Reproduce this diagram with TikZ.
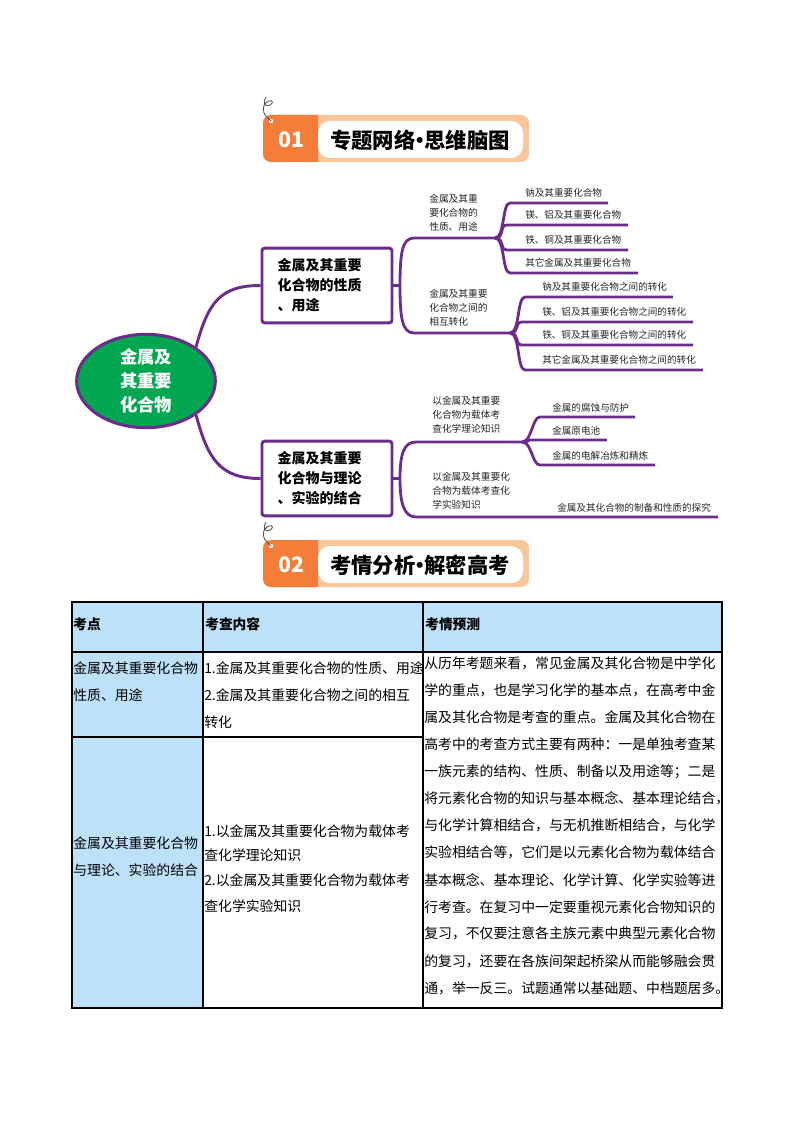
\documentclass[tikz,border=0pt]{standalone}
\usepackage{fontspec}
\setmainfont{Noto Sans CJK SC}
\usetikzlibrary{shapes.geometric,positioning}
\definecolor{mmpurple}{RGB}{106,45,140}
\definecolor{mmgreen}{RGB}{0,166,80}
\definecolor{bnorange}{RGB}{244,125,58}
\definecolor{bnlight}{RGB}{250,198,155}
\definecolor{tbblue}{RGB}{190,225,250}
\tikzset{
corebox/.style={ellipse, draw=mmpurple, line width=2.3pt, fill=mmgreen, text=white, align=center, inner sep=0pt, minimum width=104pt, minimum height=70pt, font=\fontsize{13}{18}\selectfont\bfseries},
topicbox/.style={draw=mmpurple, line width=2.2pt, rounded corners=2pt, fill=white, align=left, inner sep=0pt, text width=74pt, minimum width=97.5pt, minimum height=56pt, font=\fontsize{10.5}{15}\selectfont\bfseries},
sublabel/.style={anchor=north west, align=left, inner sep=0pt, text=black!85, font=\fontsize{7.3}{10.6}\selectfont},
leaflabel/.style={anchor=west, inner sep=0pt, text=black!85, font=\fontsize{7.2}{9}\selectfont},
trunk/.style={draw=mmpurple, line width=2.2pt},
twig/.style={draw=mmpurple, line width=2.1pt},
bannum/.style={text=white, inner sep=0pt, font=\fontsize{16}{18}\selectfont\bfseries},
bantitle/.style={text=black, inner sep=0pt, font=\fontsize{16}{18}\selectfont\bfseries},
curlline/.style={draw=black!70, line width=0.6pt},
gridline/.style={draw=black, line width=0.8pt},
headtext/.style={anchor=west, inner sep=0pt, font=\fontsize{10.3}{12}\selectfont\bfseries},
celltext/.style={anchor=west, inner sep=0pt, font=\fontsize{10.4}{12}\selectfont}
}
\newcommand{\tightdot}{\makebox[0.42em]{•}}
\begin{document}
\begin{tikzpicture}[x=0.75pt,y=-0.75pt]
\useasboundingbox (0,0) rectangle (794,1123);

% section banners
\foreach \yy/\num/\ttl/\nm in {0/01/专题网络\tightdot 思维脑图/a,425/02/考情分析\tightdot 解密高考/b}{
\begin{scope}[shift={(0,\yy)}]
\fill[bnlight, rounded corners=6] (263,115) rectangle (529,162);
\fill[bnorange] (318,162) [rounded corners=6] -- (263,162) -- (263,115) [sharp corners] -- (318,115) -- cycle;
\fill[white, rounded corners=9] (318,121) rectangle (523,158);
\fill[white] (271,121) circle (2.2);
\draw[curlline] (271,121) .. controls (264,115) and (261,110) .. (265,104) .. controls (270,98) and (276,101) .. (270,105) .. controls (265,108) and (262,102) .. (266,97);
\node[bannum] (num\nm) at (291,140) {\num};
\node[bantitle] (ttl\nm) at (420,140) {\ttl};
\end{scope}}

% mind map
\node[corebox] (core) at (146,381) {金属及\\其重要\\化合物};
\node[topicbox] (prop) at (327,285.5) {金属及其重要\\化合物的性质\\、用途};
\node[topicbox] (theo) at (327,478.5) {金属及其重要\\化合物与理论\\、实验的结合};

\draw[trunk] (core.north east) .. controls +(12,-45) and +(-40,0) .. (prop.west);
\draw[trunk] (core.south east) .. controls +(12,45) and +(-40,0) .. (theo.west);

\coordinate (fp) at (400,285.5);
\coordinate (ft) at (400,478.5);
\draw[twig] (prop.east) -- (fp);
\draw[twig] (theo.east) -- (ft);

\coordinate (sA) at (414,238); \coordinate (kA) at (495,238);
\coordinate (sB) at (414,333); \coordinate (kB) at (510,333);
\coordinate (sC) at (416,442); \coordinate (kC) at (522,442);
\coordinate (sD) at (416,517); \coordinate (eD) at (718,517);
\draw[twig] (fp) .. controls +(0,-32) and +(-12,0) .. (sA) -- (kA);
\draw[twig] (fp) .. controls +(0,32) and +(-12,0) .. (sB) -- (kB);
\draw[twig] (ft) .. controls +(0,-25) and +(-12,0) .. (sC) -- (kC);
\draw[twig] (ft) .. controls +(0,25) and +(-12,0) .. (sD) -- (eD);

\node[sublabel] (ga) at (429,194) {金属及其重\\要化合物的\\性质、用途};
\node[sublabel] (gb) at (429,289) {金属及其重要\\化合物之间的\\相互转化};
\node[sublabel] (gc) at (432,396) {以金属及其重要\\化合物为载体考\\查化学理论知识};
\node[sublabel] (gd) at (432,472) {以金属及其重要化\\合物为载体考查化\\学实验知识};

\foreach \ly/\lx/\le/\txt [count=\i] in {203/510/608/钠及其重要化合物,225/507/628/镁、铝及其重要化合物,250/507/628/铁、铜及其重要化合物,273/510/638/其它金属及其重要化合物}{
  \coordinate (la\i) at (\lx,\ly); \coordinate (lae\i) at (\le,\ly);
  \draw[twig] (kA) .. controls +(10,0) and +(-8,0) .. (la\i) -- (lae\i);
  \node[leaflabel] (na\i) at (525,{\ly-10}) {\txt};
}
\foreach \ly/\lx/\le/\txt [count=\i] in {297/525/673/钠及其重要化合物之间的转化,322/522/693/镁、铝及其重要化合物之间的转化,345/522/693/铁、铜及其重要化合物之间的转化,370/525/703/其它金属及其重要化合物之间的转化}{
  \coordinate (lb\i) at (\lx,\ly); \coordinate (lbe\i) at (\le,\ly);
  \draw[twig] (kB) .. controls +(10,0) and +(-8,0) .. (lb\i) -- (lbe\i);
  \node[leaflabel] (nb\i) at (542,{\ly-10}) {\txt};
}
\foreach \ly/\lx/\le/\txt [count=\i] in {417/540/635/金属的腐蚀与防护,440/532/607/金属原电池,465/540/655/金属的电解冶炼和精炼}{
  \coordinate (lc\i) at (\lx,\ly); \coordinate (lce\i) at (\le,\ly);
  \draw[twig] (kC) .. controls +(10,0) and +(-8,0) .. (lc\i) -- (lce\i);
  \node[leaflabel] (nc\i) at (552,{\ly-9}) {\txt};
}
\node[leaflabel] (nd1) at (557,508) {金属及其化合物的制备和性质的探究};

% table
\fill[tbblue] (72,602) rectangle (722,652);
\fill[tbblue] (72,652) rectangle (203,1008);
\draw[gridline] (72,602) rectangle (722,1008);
\draw[gridline] (72,652) -- (722,652);
\draw[gridline] (72,737) -- (423,737);
\draw[gridline] (203,602) -- (203,1008);
\draw[gridline] (423,602) -- (423,1008);

\node[headtext] (h1) at (73,624) {考点};
\node[headtext] (h2) at (205,624) {考查内容};
\node[headtext] (h3) at (425,624) {考情预测};

\node[celltext] (r1a) at (73,668) {金属及其重要化合物};
\node[celltext] (r1b) at (73,695) {性质、用途};
\node[celltext] (r1c) at (204,668) {1.金属及其重要化合物的性质、用途};
\node[celltext] (r1d) at (204,695) {2.金属及其重要化合物之间的相互};
\node[celltext] (r1e) at (204,722) {转化};

\node[celltext] (r2a) at (73,843) {金属及其重要化合物};
\node[celltext] (r2b) at (73,870) {与理论、实验的结合};
\node[celltext] (r2c) at (204,831) {1.以金属及其重要化合物为载体考};
\node[celltext] (r2d) at (204,855) {查化学理论知识};
\node[celltext] (r2e) at (204,880) {2.以金属及其重要化合物为载体考};
\node[celltext] (r2f) at (204,906) {查化学实验知识};

\foreach \ln [count=\k] in {从历年考题来看，常见金属及其化合物是中学化,学的重点，也是学习化学的基本点，在高考中金,属及其化合物是考查的重点。金属及其化合物在,高考中的考查方式主要有两种：一是单独考查某,一族元素的结构、性质、制备以及用途等；二是,将元素化合物的知识与基本概念、基本理论结合，,与化学计算相结合，与无机推断相结合，与化学,实验相结合等，它们是以元素化合物为载体结合,基本概念、基本理论、化学计算、化学实验等进,行考查。在复习中一定要重视元素化合物知识的,复习，不仅要注意各主族元素中典型元素化合物,的复习，还要在各族间架起桥梁从而能够融会贯,通，举一反三。试题通常以基础题、中档题居多。}{
  \node[celltext] (fc\k) at (424,{663+27.08*(\k-1)}) {\ln};
}
\end{tikzpicture}
\end{document}
